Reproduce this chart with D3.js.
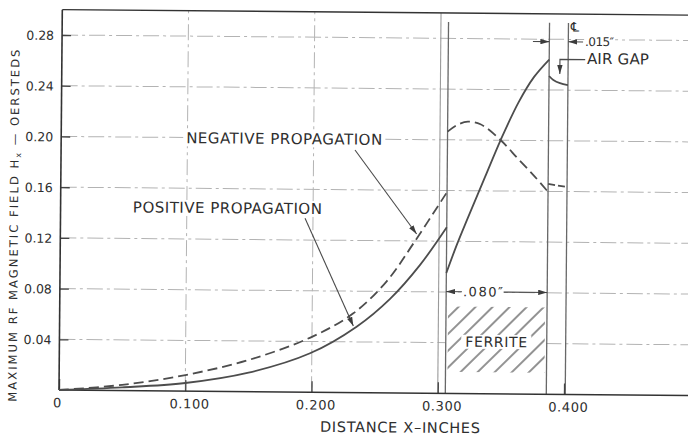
<!DOCTYPE html>
<html>
<head>
<meta charset="utf-8">
<script src="https://cdn.jsdelivr.net/npm/d3@7"></script>
<style>
  html, body { margin: 0; padding: 0; background: #fff; }
  svg { display: block; }
  text { font-family: "DejaVu Sans", "Liberation Sans", sans-serif; fill: #2e2e2e; }
</style>
</head>
<body>
<svg id="chart" width="688" height="436"></svg>
<script>
// ---- axis ticks ----
const xTicks = [0, 0.1, 0.2, 0.3, 0.4];
const xTickLabels = ["0", "0.100", "0.200", "0.300", "0.400"];
const yTicks = [0.04, 0.08, 0.12, 0.16, 0.20, 0.24, 0.28];
const yTickLabels = ["0.04", "0.08", "0.12", "0.16", "0.20", "0.24", "0.28"];

// ---- field amplitude in front of the ferrite slab (distance x in inches, Hx in oersteds) ----
const posOutX = [0, 0.05, 0.10, 0.15, 0.1986, 0.2353, 0.2616, 0.285, 0.306];
const posOutY = [0, 0.0025, 0.0064, 0.0150, 0.0307, 0.0520, 0.0742, 0.1010, 0.1310];
const negOutX = [0, 0.05, 0.10, 0.15, 0.20, 0.2326, 0.2588, 0.2797, 0.306];
const negOutY = [0, 0.0045, 0.0127, 0.0250, 0.0437, 0.0625, 0.0880, 0.1180, 0.1588];

// ---- inside the ferrite ----
const posInX = [0.306, 0.314, 0.322, 0.336, 0.348, 0.362, 0.374, 0.386];
const posInY = [0.095, 0.117, 0.137, 0.171, 0.200, 0.230, 0.250, 0.264];
const negInX = [0.306, 0.313, 0.322, 0.332, 0.348, 0.362, 0.375, 0.386];
const negInY = [0.2064, 0.2115, 0.2144, 0.2125, 0.2002, 0.1855, 0.172, 0.1596];

// ---- across the air gap up to the centre line ----
const airPosX = [0.386, 0.3894, 0.3947, 0.401];
const airPosY = [0.2510, 0.2479, 0.2454, 0.2440];
const airNegX = [0.386, 0.401];
const airNegY = [0.1659, 0.1636];

// ---- geometry of the guide cross-section (inches) ----
const ferriteStart = 0.306;
const ferriteEnd = 0.386;   // .080" slab
const centerLine = 0.401;   // .015" air gap beyond the slab

const zip = (xs, ys) => xs.map((v, i) => [v, ys[i]]);

const svg = d3.select("#chart");
svg.append("rect").attr("width", 688).attr("height", 436).attr("fill", "#fff");

const x = d3.scaleLinear().domain([0, 0.5]).range([60.5, 691.75]);
const y = d3.scaleLinear().domain([0, 0.3]).range([392.5, 12.1]);

// the sheet sits a touch askew
const g = svg.append("g").attr("transform", "rotate(0.5,344,218)");

const defs = svg.append("defs");
defs.append("marker").attr("id", "arrow")
  .attr("viewBox", "0 0 10 6").attr("refX", 10).attr("refY", 3)
  .attr("markerWidth", 9).attr("markerHeight", 5.5)
  .attr("markerUnits", "userSpaceOnUse").attr("orient", "auto")
  .append("path").attr("d", "M0,0 L10,3 L0,6 Z").attr("fill", "#3c3c3c");
defs.append("pattern").attr("id", "hatch")
  .attr("patternUnits", "userSpaceOnUse").attr("width", 12).attr("height", 12)
  .attr("patternTransform", "rotate(45)")
  .append("line").attr("x1", 1).attr("x2", 1).attr("y1", 0).attr("y2", 12)
  .attr("stroke", "#4a4a4a").attr("stroke-width", 1.2);

// ---- grid ----
const gridStyle = s => s.attr("stroke", "#b3b3b3").attr("stroke-width", 1)
  .attr("stroke-dasharray", "16,4,3,4");
g.selectAll(".hgrid").data(yTicks).join("line").attr("class", "hgrid")
  .attr("x1", x(0)).attr("x2", x(0.5) + 10)
  .attr("y1", d => y(d)).attr("y2", d => y(d)).call(gridStyle);
g.selectAll(".vgrid").data([0.1, 0.2]).join("line").attr("class", "vgrid")
  .attr("x1", d => x(d)).attr("x2", d => x(d))
  .attr("y1", y(0)).attr("y2", y(0.3)).call(gridStyle);
g.append("line")
  .attr("x1", x(0.3)).attr("x2", x(0.3)).attr("y1", y(0)).attr("y2", y(0.3))
  .attr("stroke", "#9a9a9a").attr("stroke-width", 1.1);

// ---- ferrite slab with hatching ----
g.append("rect")
  .attr("x", x(ferriteStart)).attr("width", x(ferriteEnd) - x(ferriteStart))
  .attr("y", y(0.0685)).attr("height", y(0.017) - y(0.0685))
  .attr("fill", "#fff");
g.append("rect")
  .attr("x", x(ferriteStart) + 2).attr("width", x(ferriteEnd) - x(ferriteStart) - 4)
  .attr("y", y(0.0685)).attr("height", y(0.017) - y(0.0685))
  .attr("fill", "url(#hatch)");

// slab faces and centre line
g.selectAll(".edge").data([ferriteStart, ferriteEnd, centerLine]).join("line")
  .attr("class", "edge")
  .attr("x1", d => x(d)).attr("x2", d => x(d))
  .attr("y1", y(0)).attr("y2", y(0.293))
  .attr("stroke", "#686868").attr("stroke-width", 1.3);

// ---- axes ----
const yAxis = d3.axisLeft(y).tickValues(yTicks)
  .tickFormat((d, i) => yTickLabels[i]).tickSizeInner(-9).tickSizeOuter(0).tickPadding(8);
const ya = g.append("g").attr("transform", `translate(${x(0)},0)`).call(yAxis);
ya.select(".domain").remove();
ya.selectAll(".tick line").attr("stroke", "#444").attr("stroke-width", 1.3);
ya.selectAll(".tick text").attr("font-size", 12.5).attr("fill", "#2e2e2e")
  .attr("font-family", "DejaVu Sans").attr("dy", "0.36em");

const xAxis = d3.axisBottom(x).tickValues(xTicks)
  .tickFormat((d, i) => xTickLabels[i]).tickSizeInner(-11).tickSizeOuter(0).tickPadding(8);
const xa = g.append("g").attr("transform", `translate(0,${y(0)})`).call(xAxis);
xa.select(".domain").remove();
xa.selectAll(".tick line").attr("stroke", "#444").attr("stroke-width", 1.3);
xa.selectAll(".tick text").attr("font-size", 13).attr("fill", "#2e2e2e")
  .attr("font-family", "DejaVu Sans").attr("letter-spacing", 0.6)
  .attr("dx", d => d === 0 ? -2 : 4);

// frame: left axis, bottom axis, top edge
g.append("line").attr("x1", x(0)).attr("x2", x(0)).attr("y1", y(0)).attr("y2", y(0.3))
  .attr("stroke", "#333").attr("stroke-width", 1.6);
g.append("line").attr("x1", x(0)).attr("x2", x(0.5) + 10).attr("y1", y(0)).attr("y2", y(0))
  .attr("stroke", "#333").attr("stroke-width", 1.6);
g.append("line").attr("x1", x(0)).attr("x2", x(0.5) + 10).attr("y1", y(0.3)).attr("y2", y(0.3))
  .attr("stroke", "#333").attr("stroke-width", 1.4);

// ---- field curves ----
const line = d3.line().x(d => x(d[0])).y(d => y(d[1])).curve(d3.curveCatmullRom.alpha(0.5));
const solid = s => s.attr("fill", "none").attr("stroke", "#4d4d4d").attr("stroke-width", 1.8);
const dashed = s => s.attr("fill", "none").attr("stroke", "#4d4d4d").attr("stroke-width", 1.8)
  .attr("stroke-dasharray", "10,5");

g.append("path").attr("d", line(zip(posOutX, posOutY))).call(solid);
g.append("path").attr("d", line(zip(posInX, posInY))).call(solid);
g.append("path").attr("d", line(zip(airPosX, airPosY))).call(solid);
g.append("path").attr("d", line(zip(negOutX, negOutY))).call(dashed);
g.append("path").attr("d", line(zip(negInX, negInY))).call(dashed);
g.append("path").attr("d", line(zip(airNegX, airNegY))).call(dashed)
  .attr("stroke-dasharray", "7,3");

// ---- lettering ----
function fitText(t, width) {
  const n = t.node().getNumberOfChars();
  const nat = t.node().getComputedTextLength();
  if (n > 1) t.attr("letter-spacing", (width - nat) / (n - 1));
}
function addLabel(o) {
  const t = g.append("text").attr("font-size", o.size)
    .attr("dominant-baseline", "central").attr("x", 0).attr("y", y(o.yv)).text(o.text);
  fitText(t, o.width);
  const x0 = o.anchor === "middle" ? x(o.xv) - o.width / 2 : x(o.xv);
  t.attr("x", x0);
  if (o.bg) {
    const b = t.node().getBBox();
    const p = o.pad == null ? 2 : o.pad;
    g.insert("rect", () => t.node())
      .attr("x", b.x - p).attr("y", b.y + 1).attr("width", o.width + 2 * p).attr("height", b.height - 2)
      .attr("fill", "#fff");
  }
  return t;
}
function leader(x1, y1, x2, y2) {
  g.append("line").attr("x1", x(x1)).attr("y1", y(y1)).attr("x2", x(x2)).attr("y2", y(y2))
    .attr("stroke", "#4a4a4a").attr("stroke-width", 1.1).attr("marker-end", "url(#arrow)");
}

addLabel({ text: "NEGATIVE PROPAGATION", xv: 0.099, yv: 0.1995, size: 15, width: 196, bg: true, pad: 3 });
addLabel({ text: "POSITIVE PROPAGATION", xv: 0.0573, yv: 0.1445, size: 15, width: 189, bg: true, pad: 3 });
leader(0.2328, 0.1913, 0.2822, 0.1255);
leader(0.1937, 0.1371, 0.2327, 0.0525);

// slab thickness
addLabel({ text: ".080\u2033", xv: 0.3193, yv: 0.0803, size: 13, width: 40, bg: true, pad: 1 });
leader(0.3185, 0.0803, ferriteStart, 0.0803);
leader(0.3515, 0.0803, ferriteEnd, 0.0803);
addLabel({ text: "FERRITE", xv: (ferriteStart + ferriteEnd) / 2, yv: 0.0409, size: 14, width: 62,
  anchor: "middle", bg: true, pad: 4 });

// air gap
addLabel({ text: ".015\u2033", xv: 0.4143, yv: 0.2781, size: 12, width: 29, bg: true, pad: 1 });
leader(0.373, 0.2781, ferriteEnd, 0.2781);
leader(0.4127, 0.2781, centerLine, 0.2781);
addLabel({ text: "AIR GAP", xv: 0.4159, yv: 0.2647, size: 15, width: 62 });
g.append("polyline")
  .attr("points", [[x(0.4145), y(0.2642)], [x(0.3945), y(0.2642)], [x(0.3945), y(0.2527)]].join(" "))
  .attr("fill", "none").attr("stroke", "#4a4a4a").attr("stroke-width", 1.1)
  .attr("marker-end", "url(#arrow)");
g.append("text").attr("x", x(0.4061)).attr("y", y(0.2898)).attr("font-size", 13)
  .attr("text-anchor", "middle").attr("dominant-baseline", "central").text("\u2104");

// axis titles
const xt = g.append("text").attr("font-size", 14.5).attr("dominant-baseline", "central")
  .attr("x", 0).attr("y", 427).text("DISTANCE X\u2013INCHES");
fitText(xt, 160);
xt.attr("x", 401.8 - 80);

const yt = g.append("text").attr("font-size", 11.5)
  .attr("transform", "translate(18,404.5) rotate(-90)");
yt.append("tspan").text("MAXIMUM RF MAGNETIC FIELD H");
yt.append("tspan").attr("font-size", 8).attr("dy", 2.5).text("x");
yt.append("tspan").attr("dy", -2.5).text(" \u2014 OERSTEDS");
fitText(yt, 352);
</script>
</body>
</html>
